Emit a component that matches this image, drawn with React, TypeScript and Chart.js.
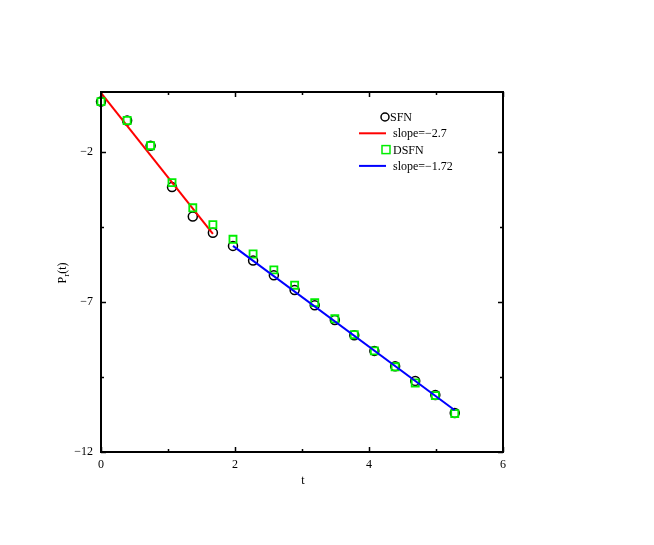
import React, { useEffect, useRef } from "react";
import { Chart, registerables } from "chart.js";

Chart.register(...registerables);

// Data
const tValues = [0, 0.39, 0.74, 1.06, 1.37, 1.67, 1.97, 2.27, 2.58, 2.89, 3.19, 3.49, 3.78, 4.08, 4.39, 4.69, 4.99, 5.28];
const sfnValues = [-0.32, -0.95, -1.79, -3.17, -4.15, -4.69, -5.13, -5.62, -6.11, -6.6, -7.11, -7.6, -8.11, -8.63, -9.14, -9.63, -10.1, -10.7];
const dsfnValues = [-0.32, -0.95, -1.79, -3.02, -3.86, -4.42, -4.91, -5.4, -5.93, -6.44, -7.02, -7.56, -8.09, -8.63, -9.16, -9.7, -10.12, -10.72];
const fit1T = [0, 1.67];
const fit1P = [-0.03, -4.73];
const fit2T = [1.97, 5.28];
const fit2P = [-5.13, -10.61];

const xTicks = [0, 1, 2, 3, 4, 5, 6];
const xLabeled = [0, 2, 4, 6];
const yTicks = [-12, -9.5, -7, -4.5, -2];
const yLabeled = [-12, -7, -2];

const seriesLabels = ["SFN", "slope=\u22122.7", "DSFN", "slope=\u22121.72"];

const FONT = "'Liberation Serif', 'DejaVu Serif', serif";
const GREEN = "#00ee00";

const fmt = (v: number) => (v < 0 ? "\u2212" + Math.abs(v) : String(v));

const framePlugin = {
  id: "frameTicks",
  afterDraw(chart: any) {
    const ctx = chart.ctx;
    const { left, right, top, bottom } = chart.chartArea;
    const xs = chart.scales.x;
    const ys = chart.scales.y;
    ctx.save();
    ctx.strokeStyle = "#000";
    ctx.lineWidth = 1.5;
    // inward ticks on all four sides
    xTicks.forEach((v) => {
      const px = Math.round(xs.getPixelForValue(v)) + 0.5;
      const len = xLabeled.includes(v) ? 5 : 3;
      ctx.beginPath();
      ctx.moveTo(px, bottom);
      ctx.lineTo(px, bottom - len);
      ctx.moveTo(px, top);
      ctx.lineTo(px, top + len);
      ctx.stroke();
    });
    yTicks.forEach((v) => {
      const py = Math.round(ys.getPixelForValue(v)) + 0.5;
      const len = yLabeled.includes(v) ? 5 : 3;
      ctx.beginPath();
      ctx.moveTo(left, py);
      ctx.lineTo(left + len, py);
      ctx.moveTo(right, py);
      ctx.lineTo(right - len, py);
      ctx.stroke();
    });
    // frame
    ctx.lineWidth = 2;
    ctx.strokeRect(left, top, right - left, bottom - top);

    // axis titles
    ctx.fillStyle = "#000";
    ctx.font = `12px ${FONT}`;
    ctx.textAlign = "center";
    ctx.textBaseline = "middle";
    ctx.fillText("t", (left + right) / 2 + 1, bottom + 29);

    ctx.save();
    ctx.translate(left - 39, (top + bottom) / 2 + 1);
    ctx.rotate(-Math.PI / 2);
    ctx.textAlign = "left";
    ctx.textBaseline = "alphabetic";
    const wP = ctx.measureText("P").width;
    ctx.font = `9px ${FONT}`;
    const wr = ctx.measureText("r").width;
    ctx.font = `12px ${FONT}`;
    const w2 = ctx.measureText("(t)").width;
    const total = wP + wr + w2;
    let x0 = -total / 2;
    ctx.fillText("P", x0, 4);
    ctx.font = `9px ${FONT}`;
    ctx.fillText("r", x0 + wP, 7);
    ctx.font = `12px ${FONT}`;
    ctx.fillText("(t)", x0 + wP + wr, 4);
    ctx.restore();

    // legend
    const ds = chart.data.datasets;
    const lx = left + 258;
    const ly = top + 25;
    const gap = 16.3;
    ctx.font = `12px ${FONT}`;
    ctx.textAlign = "left";
    ctx.textBaseline = "middle";
    // SFN circle
    ctx.lineWidth = 1.5;
    ctx.strokeStyle = ds[0].borderColor;
    ctx.beginPath();
    ctx.arc(lx + 26, ly, 4, 0, Math.PI * 2);
    ctx.stroke();
    ctx.fillText(seriesLabels[0], lx + 31, ly + 1);
    // red line
    ctx.lineWidth = 2;
    ctx.strokeStyle = ds[1].borderColor;
    ctx.beginPath();
    ctx.moveTo(lx, ly + gap);
    ctx.lineTo(lx + 27, ly + gap);
    ctx.stroke();
    ctx.fillText(seriesLabels[1], lx + 34, ly + gap + 1);
    // DSFN square
    ctx.lineWidth = 1.5;
    ctx.strokeStyle = ds[2].borderColor;
    ctx.strokeRect(lx + 23, ly + 2 * gap - 4, 8, 8);
    ctx.fillText(seriesLabels[2], lx + 34, ly + 2 * gap + 1);
    // blue line
    ctx.lineWidth = 2;
    ctx.strokeStyle = ds[3].borderColor;
    ctx.beginPath();
    ctx.moveTo(lx, ly + 3 * gap);
    ctx.lineTo(lx + 27, ly + 3 * gap);
    ctx.stroke();
    ctx.fillText(seriesLabels[3], lx + 34, ly + 3 * gap + 1);
    ctx.restore();
  },
};

export default function App() {
  const ref = useRef<HTMLCanvasElement | null>(null);
  useEffect(() => {
    if (!ref.current) return;
    const toPts = (xs: number[], ys: number[]) => xs.map((x, i) => ({ x, y: ys[i] }));
    const chart = new Chart(ref.current, {
      type: "scatter",
      data: {
        datasets: [
          {
            label: seriesLabels[0],
            data: toPts(tValues, sfnValues),
            pointStyle: "circle",
            pointRadius: 4.5,
            borderColor: "#000",
            backgroundColor: "rgba(0,0,0,0)",
            pointBorderWidth: 1.5,
            showLine: false,
            clip: false,
            order: 3,
          },
          {
            label: seriesLabels[1],
            data: toPts(fit1T, fit1P),
            showLine: true,
            borderColor: "#ff0000",
            borderWidth: 2,
            pointRadius: 0,
            order: 2,
          },
          {
            label: seriesLabels[2],
            data: toPts(tValues, dsfnValues),
            pointStyle: "rect",
            pointRadius: 5,
            borderColor: GREEN,
            backgroundColor: "rgba(0,0,0,0)",
            pointBorderWidth: 1.8,
            showLine: false,
            clip: false,
            order: 1,
          },
          {
            label: seriesLabels[3],
            data: toPts(fit2T, fit2P),
            showLine: true,
            borderColor: "#0000ff",
            borderWidth: 2,
            pointRadius: 0,
            order: 0,
          },
        ],
      },
      options: {
        responsive: false,
        animation: false,
        layout: { padding: { top: 92, right: 151, left: 0, bottom: 0 } },
        plugins: { legend: { display: false }, tooltip: { enabled: false } },
        scales: {
          x: {
            type: "linear",
            min: 0,
            max: 6,
            afterBuildTicks: (s: any) => {
              s.ticks = xTicks.map((v) => ({ value: v }));
            },
            afterFit: (s: any) => {
              s.height = 93;
            },
            grid: { display: false, drawTicks: false },
            border: { display: false },
            ticks: {
              padding: 6,
              color: "#000",
              font: { family: FONT, size: 12 },
              maxRotation: 0,
              autoSkip: false,
              callback: (v: any) => (xLabeled.includes(Number(v)) ? fmt(Number(v)) : ""),
            },
          },
          y: {
            type: "linear",
            min: -12,
            max: 0,
            afterBuildTicks: (s: any) => {
              s.ticks = yTicks.map((v) => ({ value: v }));
            },
            afterFit: (s: any) => {
              s.width = 101;
            },
            grid: { display: false, drawTicks: false },
            border: { display: false },
            ticks: {
              padding: 8,
              color: "#000",
              font: { family: FONT, size: 12 },
              autoSkip: false,
              callback: (v: any) => (yLabeled.includes(Number(v)) ? fmt(Number(v)) : ""),
            },
          },
        },
      },
      plugins: [framePlugin],
    });
    return () => chart.destroy();
  }, []);
  return (
    <div style={{ position: "fixed", left: 0, top: 0, width: 654, height: 545, background: "#fff" }}>
      <canvas ref={ref} width={654} height={545} />
    </div>
  );
}
